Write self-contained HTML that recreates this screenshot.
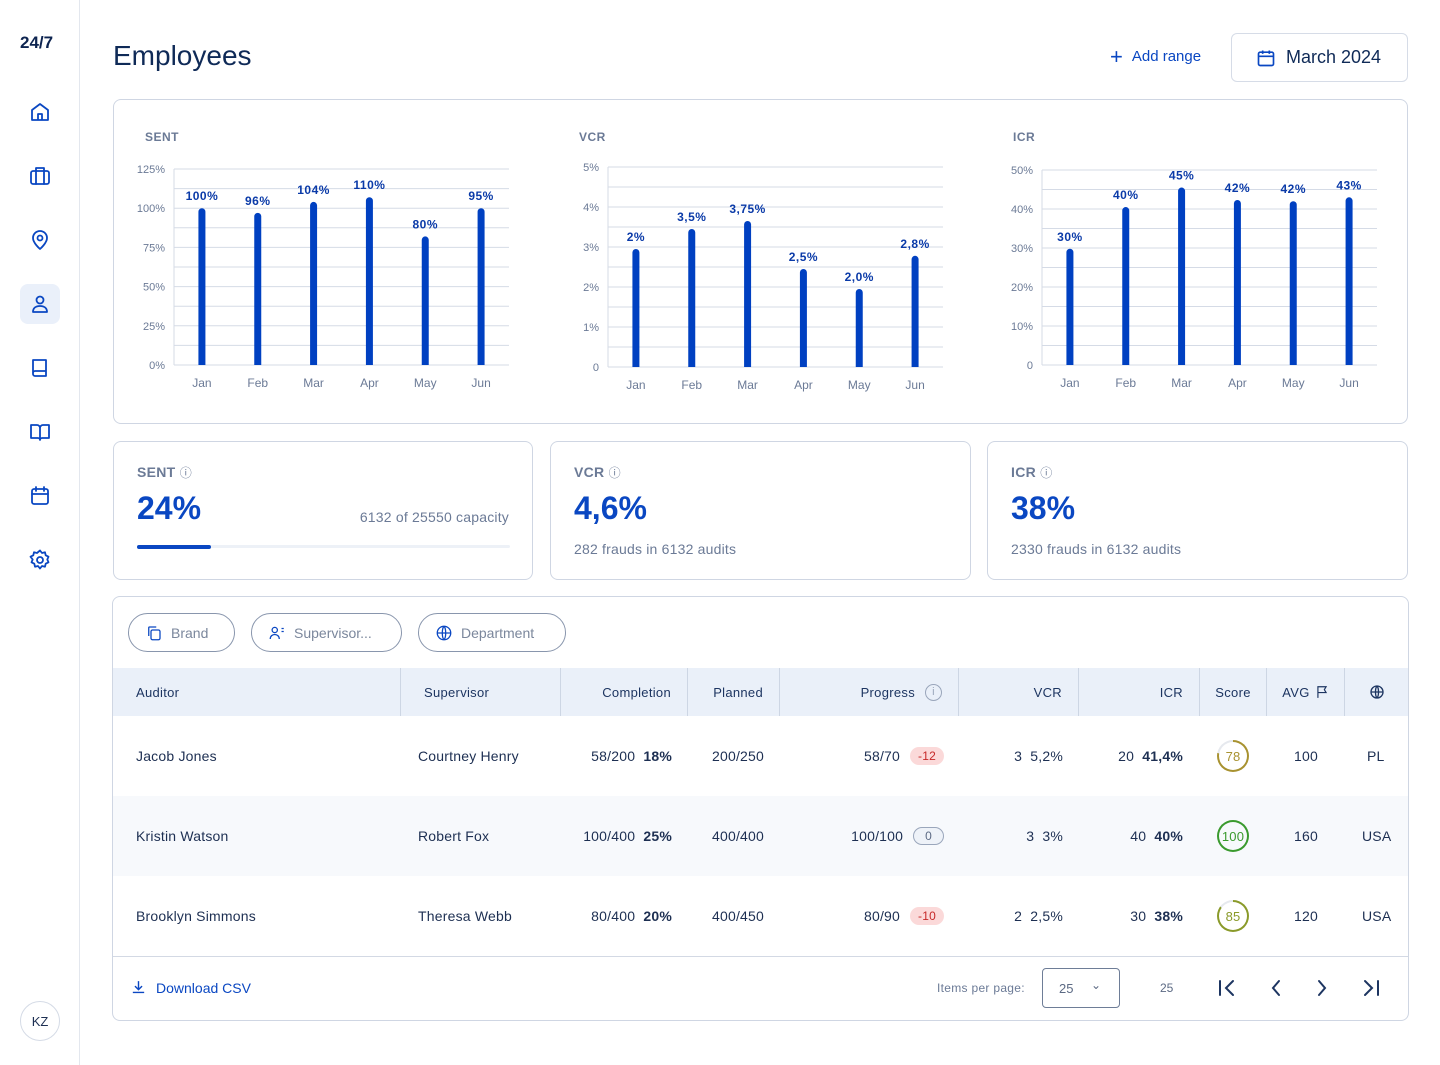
<!DOCTYPE html>
<html><head><meta charset="utf-8"><style>
*{box-sizing:border-box;margin:0;padding:0}
body{width:1440px;height:1065px;background:#fff;font-family:"Liberation Sans",sans-serif;color:#1d2f52;position:relative;overflow:hidden}
.abs{position:absolute}
.side{left:0;top:0;width:80px;height:1065px;border-right:1px solid #e3e7ee}
.ic{position:absolute;left:20px;width:40px;height:40px;display:flex;align-items:center;justify-content:center}
.ic svg{width:24px;height:24px;fill:none;stroke:#0a47c2;stroke-width:1.8;stroke-linecap:round;stroke-linejoin:round}
.card{position:absolute;border:1px solid #cfd6e3;border-radius:8px;background:#fff}
.kt{position:absolute;left:23px;top:22px;font-size:14px;color:#6b7a96;font-weight:bold;letter-spacing:.3px}
.kv{position:absolute;left:23px;top:48px;font-size:32px;font-weight:bold;color:#0a47c2}
.ks{position:absolute;font-size:14px;color:#6b7a96;letter-spacing:.2px}
.pill{position:absolute;top:613px;height:39px;border:1px solid #8996ad;border-radius:20px;display:flex;align-items:center;padding-left:16px;font-size:14px;color:#7b879c;gap:8px}
.pill svg{width:18px;height:18px;fill:none;stroke:#0a47c2;stroke-width:1.7}
.th{position:absolute;top:668px;height:48px;display:flex;align-items:center;font-size:13px;color:#1d3561;letter-spacing:.3px;border-right:1px solid #cdd6e4}
.td{position:absolute;font-size:14px;color:#1d2f52;display:flex;align-items:center;height:20px;letter-spacing:.2px}
.r{justify-content:flex-end}
.badge{display:inline-block;padding:2px 8px;border-radius:11px;font-size:12px;margin-left:10px}
.score{width:32px;height:32px;border-radius:50%;display:flex;align-items:center;justify-content:center;font-size:13px}
</style></head><body>
<div class="abs side">
<div class="abs" style="left:20px;top:33px;font-size:17px;font-weight:bold;color:#0d2450">24/7</div>
<div class="ic" style="top:92px"><svg viewBox="0 0 24 24"><path d="M4 10l8-6 8 6v10H4z M10 20v-6h4v6"/></svg></div>
<div class="ic" style="top:156px"><svg viewBox="0 0 24 24"><rect x="3" y="7" width="18" height="13" rx="2"/><path d="M8 7V4h8v3M8 7v13M16 7v13"/></svg></div>
<div class="ic" style="top:220px"><svg viewBox="0 0 24 24"><path d="M12 21s7-6 7-11a7 7 0 0 0-14 0c0 5 7 11 7 11z"/><circle cx="12" cy="10" r="2.5"/></svg></div>
<div class="ic" style="top:284px;background:#eaf0fa;border-radius:8px"><svg viewBox="0 0 24 24"><circle cx="12" cy="8" r="3.5"/><path d="M5 20c0-4 3-6 7-6s7 2 7 6z"/></svg></div>
<div class="ic" style="top:348px"><svg viewBox="0 0 24 24"><path d="M5 4h13v16H7a2 2 0 0 1-2-2zM5 17a2 2 0 0 1 2-2h11"/></svg></div>
<div class="ic" style="top:412px"><svg viewBox="0 0 24 24"><path d="M3 5h6a3 3 0 0 1 3 3v12a2 2 0 0 0-2-2H3zM21 5h-6a3 3 0 0 0-3 3v12a2 2 0 0 1 2-2h7z"/></svg></div>
<div class="ic" style="top:476px"><svg viewBox="0 0 24 24"><rect x="4" y="5" width="16" height="15" rx="2"/><path d="M4 10h16M8 3v4M16 3v4"/></svg></div>
<div class="ic" style="top:540px"><svg viewBox="0 0 24 24"><circle cx="12" cy="12" r="3"/><path d="M12 2.5l2 2.5 3-.7.7 3 2.8 1.4-1.2 2.8 1.2 2.8-2.8 1.4-.7 3-3-.7-2 2.5-2-2.5-3 .7-.7-3-2.8-1.4 1.2-2.8L2.5 8.7l2.8-1.4.7-3 3 .7z"/></svg></div>
<div class="abs" style="left:20px;top:1001px;width:40px;height:40px;border:1px solid #d5dbe6;border-radius:50%;display:flex;align-items:center;justify-content:center;font-size:13px;color:#1d2f52">KZ</div>
</div>

<div class="abs" style="left:113px;top:40px;font-size:28px;color:#0f2a57">Employees</div>
<div class="abs" style="left:1110px;top:48px;font-size:15px;color:#0a47c2;display:flex;align-items:center;gap:9px"><span style="font-size:22px;line-height:16px">+</span>Add range</div>
<div class="abs" style="left:1231px;top:33px;width:177px;height:49px;border:1px solid #d6dce7;border-radius:6px;display:flex;align-items:center;padding-left:24px;gap:10px;font-size:18px;color:#0f2a57"><svg width="20" height="20" viewBox="0 0 24 24" fill="none" stroke="#0a47c2" stroke-width="2"><rect x="3" y="5" width="18" height="16" rx="2"/><path d="M3 10h18M8 3v4M16 3v4"/></svg>March 2024</div>

<div class="card" style="left:113px;top:99px;width:1295px;height:325px">
<svg id="charts" width="1295" height="325" style="position:absolute;left:-1px;top:-1px"></svg>
</div>

<div class="card" style="left:113px;top:441px;width:420px;height:139px">
<div class="kt">SENT <span style="font-weight:normal;font-size:12px">ⓘ</span></div>
<div class="kv">24%</div>
<div class="ks" style="right:23px;top:67px">6132 of 25550 capacity</div>
<div class="abs" style="left:23px;top:103px;width:373px;height:3px;background:#edf1f7;border-radius:2px"><div style="width:74px;height:4px;background:#0a47c2;border-radius:2px;margin-top:-.5px"></div></div>
</div>
<div class="card" style="left:550px;top:441px;width:421px;height:139px">
<div class="kt">VCR <span style="font-weight:normal;font-size:12px">ⓘ</span></div>
<div class="kv">4,6%</div>
<div class="ks" style="left:23px;top:99px">282 frauds in 6132 audits</div>
</div>
<div class="card" style="left:987px;top:441px;width:421px;height:139px">
<div class="kt">ICR <span style="font-weight:normal;font-size:12px">ⓘ</span></div>
<div class="kv">38%</div>
<div class="ks" style="left:23px;top:99px">2330 frauds in 6132 audits</div>
</div>

<div class="card" style="left:112px;top:596px;width:1297px;height:425px;overflow:hidden"></div>
<div class="pill" style="left:128px;width:107px"><svg viewBox="0 0 24 24"><rect x="8" y="8" width="12" height="13" rx="2"/><path d="M5 16V5a1 1 0 0 1 1-1h9"/></svg>Brand</div>
<div class="pill" style="left:251px;width:151px"><svg viewBox="0 0 24 24"><circle cx="9" cy="8" r="3.5"/><path d="M3 20c0-4 3-6 6-6s6 2 6 6M18 6h3M18 10h3"/></svg>Supervisor...</div>
<div class="pill" style="left:418px;width:148px"><svg viewBox="0 0 24 24"><circle cx="12" cy="12" r="9"/><path d="M3 12h18M12 3c3 3 3 15 0 18M12 3c-3 3-3 15 0 18"/></svg>Department</div>

<div class="abs" style="left:113px;top:668px;width:1295px;height:48px;background:#eaf0f9"></div>
<div class="abs" style="left:113px;top:796px;width:1295px;height:80px;background:#f7f9fc"></div>
<div class="abs" style="left:113px;top:956px;width:1295px;height:1px;background:#d3d9e4"></div>
<div id="tbl"></div>

<div class="abs" style="left:130px;top:979px;font-size:14px;color:#0a47c2;display:flex;align-items:center;gap:9px"><svg width="17" height="17" viewBox="0 0 24 24" fill="none" stroke="#0a47c2" stroke-width="2"><path d="M12 3v12M7 10l5 5 5-5M4 19h16"/></svg>Download CSV</div>
<div class="abs" style="left:937px;top:981px;font-size:12px;color:#6b7a96;letter-spacing:.3px">Items per page:</div>
<div class="abs" style="left:1042px;top:968px;width:78px;height:40px;border:1px solid #6e7d97;border-radius:4px;font-size:13px;color:#5c6a84;padding:12px 0 0 16px">25<span style="position:absolute;left:48px;top:9px;font-size:12px">⌄</span></div>
<div class="abs" style="left:1160px;top:981px;font-size:12px;color:#5c6a84">25</div>
<svg class="abs" style="left:1210px;top:976px" width="180" height="24" viewBox="0 0 180 24" fill="none" stroke="#1d3561" stroke-width="2" stroke-linecap="round">
<g><path d="M10 5v14M23 5l-7 7 7 7"/></g>
<g><path d="M69 5l-6 7 6 7"/></g>
<g><path d="M109 5l6 7-6 7"/></g>
<g><path d="M155 5l7 7-7 7M168 5v14"/></g>
</svg>

<script>
const months=['Jan','Feb','Mar','Apr','May','Jun'];
const sentValues=[100,97,104,107,82,100];
const sentLabels=['100%','96%','104%','110%','80%','95%'];
const sentTicks=['0%','25%','50%','75%','100%','125%'];
const vcrValues=[2.95,3.45,3.65,2.45,1.95,2.78];
const vcrLabels=['2%','3,5%','3,75%','2,5%','2,0%','2,8%'];
const vcrTicks=['0','1%','2%','3%','4%','5%'];
const icrValues=[29.8,40.5,45.5,42.3,42,43];
const icrLabels=['30%','40%','45%','42%','42%','43%'];
const icrTicks=['0','10%','20%','30%','40%','50%'];
const NS='http://www.w3.org/2000/svg';
const svg=document.getElementById('charts');
function mk(t,a,p){const e=document.createElementNS(NS,t);for(const k in a)e.setAttribute(k,a[k]);(p||svg).appendChild(e);return e;}
function chart(id,title,x0,x1,yTop,yBot,maxV,vals,labels,ticks){
  const g=mk('g',{});
  
  
  const t=mk('text',{x:x0-29,y:42,'font-size':12,fill:'#6b7a96','font-weight':'bold','letter-spacing':'.5'},g);t.textContent=title;
  const ys=v=>yBot-(yBot-yTop)*v/maxV;
  const n=ticks.length-1;
  for(let i=0;i<=n*2;i++){const y=yBot-(yBot-yTop)*i/(n*2);mk('line',{x1:x0,x2:x1,y1:y,y2:y,stroke:'#d5dbe6','stroke-width':1},g);}
  mk('line',{x1:x0,x2:x0,y1:yTop,y2:yBot,stroke:'#d5dbe6'},g);
  ticks.forEach((tk,i)=>{const y=yBot-(yBot-yTop)*i/n;const e=mk('text',{x:x0-9,y:y+4,'text-anchor':'end','font-size':11,fill:'#6b7a96'},g);e.textContent=tk;});
  const step=(x1-x0)/6;
  vals.forEach((v,i)=>{const cx=x0+step*(i+0.5);const y=ys(v);
    const b=mk('path',{d:`M${cx-3.5} ${yBot} V${y+3.5} a3.5 3.5 0 0 1 7 0 V${yBot}Z`,fill:'#0040c1'},g);
    
    
    const l=mk('text',{x:cx,y:y-8,'text-anchor':'middle','font-size':12,'font-weight':'bold',fill:'#0a3aa8','letter-spacing':'.5'},g);l.textContent=labels[i];
    const m=mk('text',{x:cx,y:yBot+22,'text-anchor':'middle','font-size':12,fill:'#6b7a96'},g);m.textContent=months[i];
  });
}
chart('sent','SENT',61,396,70,266,125,sentValues,sentLabels,sentTicks);
chart('vcr','VCR',495,830,68,268,5,vcrValues,vcrLabels,vcrTicks);
chart('icr','ICR',929,1264,71,266,50,icrValues,icrLabels,icrTicks);

const T=document.getElementById('tbl');
function el(h,cls,style,name,inter){const d=document.createElement('div');d.className=cls;d.style.cssText=style;d.innerHTML=h;


T.appendChild(d);return d;}
const heads=[['Auditor',113,401,'l'],['Supervisor',401,561,'l'],['Completion',561,688,'r'],['Planned',688,780,'r'],['Progress <span style="display:inline-block;width:17px;height:17px;border:1.5px solid #9aa6bb;border-radius:50%;text-align:center;font-size:11px;line-height:14px;color:#9aa6bb;margin-left:10px">i</span>',780,959,'r'],['VCR',959,1079,'r'],['ICR',1079,1200,'r'],['Score',1200,1267,'c'],['AVG <svg width="14" height="14" viewBox="0 0 24 24" fill="none" stroke="#1d3561" stroke-width="2" style="margin-left:5px"><path d="M5 22V3h14l-3 5 3 5H5"/></svg>',1267,1345,'c'],['<svg width="16" height="16" viewBox="0 0 24 24" fill="none" stroke="#1d3561" stroke-width="2"><circle cx="12" cy="12" r="9"/><path d="M3 12h18M12 3c3 3 3 15 0 18M12 3c-3 3-3 15 0 18"/></svg>',1345,1408,'c']];
heads.forEach((h,i)=>{const pad=h[3]=='l'?'padding-left:23px;':h[3]=='r'?'justify-content:flex-end;padding-right:16px;':'justify-content:center;';
el(h[0],'th',`left:${h[1]}px;width:${h[2]-h[1]}px;${pad}${i==heads.length-1?'border-right:none;':''}`,'header-'+i,'true');});
const rows=[
['Jacob Jones','Courtney Henry','58/200','18%','200/250','58/70','-12','3','5,2%','20','41,4%',78,'100','PL'],
['Kristin Watson','Robert Fox','100/400','25%','400/400','100/100','0','3','3%','40','40%',100,'160','USA'],
['Brooklyn Simmons','Theresa Webb','80/400','20%','400/450','80/90','-10','2','2,5%','30','38%',85,'120','USA']];
rows.forEach((r,i)=>{const y=746+i*80;const n='row-'+(i+1);
el(r[0],'td',`left:136px;top:${y}px`,n+'-auditor','false');
el(r[1],'td',`left:418px;top:${y}px`,n+'-supervisor','false');
el(r[2]+'&nbsp;&nbsp;<b style="font-weight:600">'+r[3]+'</b>','td r',`right:${1440-672}px;top:${y}px`,n+'-completion','false');
el(r[4],'td r',`right:${1440-764}px;top:${y}px`,n+'-planned','false');
const neg=r[6]!='0';
el(r[5]+`<span class="badge" style="${neg?'background:#fbd9d9;color:#c62828':'background:#eef2f8;color:#5c6a84;border:1px solid #9aa6bb;padding:1px 11px'}">${r[6]}</span>`,'td r',`right:${1440-944}px;top:${y}px`,n+'-progress','false');
el(r[7]+'&nbsp;&nbsp;'+r[8],'td r',`right:${1440-1063}px;top:${y}px`,n+'-vcr','false');
el(r[9]+'&nbsp;&nbsp;<b>'+r[10]+'</b>','td r',`right:${1440-1183}px;top:${y}px`,n+'-icr','false');
const c=r[11]==100?'#3a9a2e':r[11]==85?'#8a9a2a':'#a89230';
const deg=r[11]*3.6;
el(`<div class="score" style="background:conic-gradient(${c} 0 ${deg}deg,#e6e9ee ${deg}deg 360deg);color:${c}"><div style="width:28px;height:28px;border-radius:50%;background:${i==1?'#f7f9fc':'#fff'};display:flex;align-items:center;justify-content:center">${r[11]}</div></div>`,'td',`left:1217px;top:${y-6}px;height:32px`,n+'-score','false');
el(r[12],'td',`left:1294px;top:${y}px`,n+'-avg','false');
el(r[13],'td',`left:${r[13]=='PL'?1367:1362}px;top:${y}px`,n+'-country','false');
});
</script>
</body></html>
